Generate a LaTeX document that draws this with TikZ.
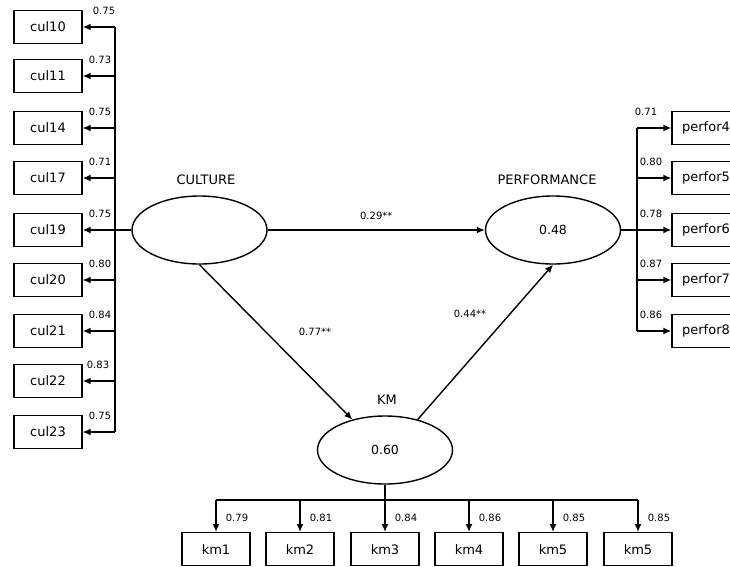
\documentclass[tikz,border=0pt]{standalone}
\usepackage{fontspec}
\setmainfont{DejaVu Sans}
\usepackage{tikz}
\usetikzlibrary{arrows.meta,shapes.geometric}

\begin{document}
\begin{tikzpicture}[x=1pt, y=-1pt,
        caja/.style={draw, line width=1.4pt, minimum width=68pt, minimum height=33pt, inner sep=0pt, font=\fontsize{13}{15}\selectfont},
        latente/.style={draw, ellipse, line width=1.4pt, minimum width=135pt, minimum height=68pt, inner sep=0pt, font=\fontsize{12.5}{14}\selectfont},
        titulo/.style={font=\fontsize{13}{15}\selectfont},
        carga/.style={font=\fontsize{10}{12}\selectfont},
        flecha/.style={-{Latex[length=8pt,width=7pt]}, line width=1.4pt},
        linea/.style={line width=1.4pt}]
        % Región de dibujo (igual que la figura)
        \useasboundingbox (0,0) rectangle (730,566);
        \clip (0,0) rectangle (730,566);

        % Variables latentes
        \node[latente] (cult) at (199.5,230) {};
        \node[latente] (perf) at (553,230) {0.48};
        \node[latente] (km) at (385,450) {0.60};
        \node[titulo] (lcult) at (206,180) {CULTURE};
        \node[titulo] (lperf) at (547,180) {PERFORMANCE};
        \node[titulo] (lkm) at (387,400) {KM};

        % Caminos estructurales
        \draw[flecha] (cult) -- (perf) node[carga, midway, above=6pt] (b1) {0.29**};
        \draw[flecha] (cult.south) -- (km.137);
        \node[carga] (b2) at (315,332) {0.77**};
        \draw[flecha] (km.43) -- (perf.south);
        \node[carga] (b3) at (470,314) {0.44**};

        % Indicadores de CULTURE
        \coordinate (bc10) at (115,27);
        \coordinate (bc23) at (115,432);
        \draw[linea] (bc10) -- (bc23);
        \foreach \n/\y/\v/\lx in {10/27/0.75/104, 11/76/0.73/100, 14/128/0.75/100, 17/178/0.71/100, 19/230/0.75/100,
                                  20/280/0.80/100, 21/331/0.84/100, 22/381/0.83/98, 23/432/0.75/100} {
            \node[caja] (cul\n) at (48,\y) {cul\n};
            \coordinate (bc\n) at (115,\y);
            \draw[flecha] (bc\n) -- (cul\n);
            \node[carga] (lc\n) at (\lx,\y-16) {\v};
        }
        \draw[linea] (cult) -- (bc19);

        % Indicadores de PERFORMANCE
        \coordinate (bp4) at (637,128);
        \coordinate (bp8) at (637,331);
        \draw[linea] (bp4) -- (bp8);
        \foreach \n/\y/\v/\lx in {4/128/0.71/646, 5/178/0.80/651, 6/230/0.78/651, 7/280/0.87/651, 8/331/0.86/651} {
            \node[caja] (perfor\n) at (706,\y) {perfor\n};
            \coordinate (bp\n) at (637,\y);
            \draw[flecha] (bp\n) -- (perfor\n);
            \node[carga] (lp\n) at (\lx,\y-16) {\v};
        }
        \draw[linea] (perf) -- (bp6);

        % Indicadores de KM
        \coordinate (bk1) at (216,500);
        \coordinate (bk6) at (638,500);
        \coordinate (bk3) at (385,500);
        \draw[linea] (bk1) -- (bk6);
        \draw[linea] (km) -- (bk3);
        \foreach \i/\x/\v/\t in {1/216/0.79/km1, 2/300/0.81/km2, 3/385/0.84/km3,
                                 4/469/0.86/km4, 5/553/0.85/km5, 6/638/0.85/km5} {
            \coordinate (bk\i) at (\x,500);
            \node[caja, anchor=north] (km\i) at (\x,532) {\t};
            \draw[flecha] (bk\i) -- (km\i);
            \node[carga] (lk\i) at (\x+21,518) {\v};
        }
\end{tikzpicture}
\end{document}
